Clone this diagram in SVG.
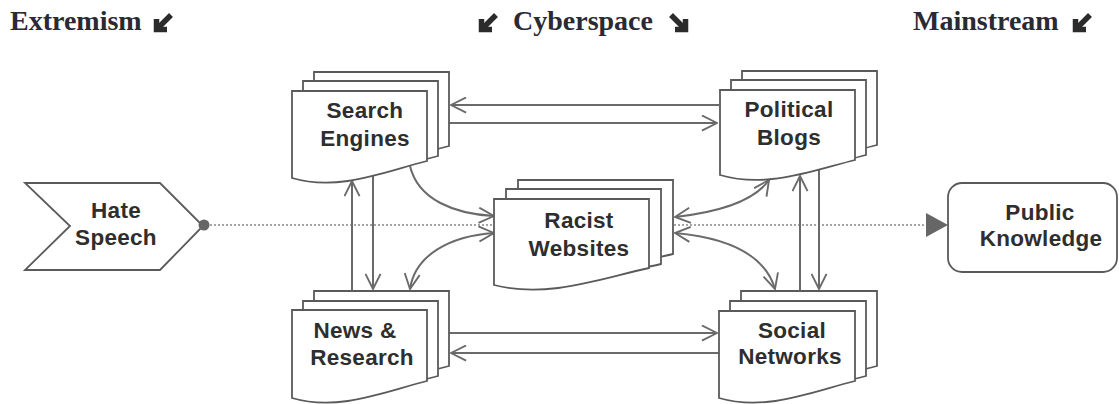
<svg xmlns="http://www.w3.org/2000/svg" width="1119" height="404" viewBox="0 0 1119 404">
<style>
.page{fill:#fff;stroke:#5a5a5a;stroke-width:1.8;stroke-linejoin:miter}
.lbl{font-family:"Liberation Sans",Arial,sans-serif;font-weight:bold;font-size:22.5px;letter-spacing:0.3px;fill:#2e2e2e;text-anchor:middle}
.hdr{font-family:"Liberation Serif","Times New Roman",serif;font-weight:bold;font-size:28px;fill:#2a2a35}
.ln{fill:none;stroke:#6a6a6a;stroke-width:2}
.ic{fill:none;stroke:#2b2b2b;stroke-width:5.5;stroke-linejoin:miter;stroke-linecap:butt}
</style>
<defs>
<marker id="ah" viewBox="0 0 18 18" refX="17" refY="9" markerWidth="17" markerHeight="17" markerUnits="userSpaceOnUse" orient="auto-start-reverse">
<path d="M1,1 L17,9 L1,17" fill="none" stroke="#6a6a6a" stroke-width="2"/>
</marker>
<g id="dl"><path class="ic" d="M18,2 L6,14"/><path class="ic" d="M3.5,6 V16.5 H14"/></g>
</defs>

<g id="headers">
<text class="hdr" x="10" y="30">Extremism</text>
<use href="#dl" x="153" y="13"/>
<use href="#dl" x="478" y="13"/>
<text class="hdr" x="513" y="30">Cyberspace</text>
<use href="#dl" transform="translate(689,13) scale(-1,1)"/>
<text class="hdr" x="913" y="30">Mainstream</text>
<use href="#dl" x="1072" y="13"/>
</g>

<g id="connectors">
<path d="M210,225 H928" fill="none" stroke="#888" stroke-width="1.6" stroke-dasharray="2 2"/>
<polygon points="926,213 948,225 926,237" fill="#666"/>
<path class="ln" d="M719,105 H451" marker-end="url(#ah)"/>
<path class="ln" d="M449,123 H717" marker-end="url(#ah)"/>
<path class="ln" d="M449,333 H717" marker-end="url(#ah)"/>
<path class="ln" d="M719,353 H451" marker-end="url(#ah)"/>
<path class="ln" d="M352,291 V181" marker-end="url(#ah)"/>
<path class="ln" d="M373,176 V289" marker-end="url(#ah)"/>
<path class="ln" d="M800,291 V176" marker-end="url(#ah)"/>
<path class="ln" d="M819,164 V289" marker-end="url(#ah)"/>
<path class="ln" d="M410,166 C418,200 455,214 494,216" marker-end="url(#ah)"/>
<path class="ln" d="M494,233 C450,236 415,255 410,289" marker-start="url(#ah)" marker-end="url(#ah)"/>
<path class="ln" d="M675,217 C720,212 755,200 769,180" marker-start="url(#ah)" marker-end="url(#ah)"/>
<path class="ln" d="M675,233 C730,238 765,255 775,289" marker-start="url(#ah)" marker-end="url(#ah)"/>
</g>

<g id="hate-speech">
<polygon class="page" points="25,183 160,183 203,226 160,270 25,270 70,226"/>
<circle cx="204" cy="225" r="5.5" fill="#666"/>
<text class="lbl" x="116" y="218">Hate</text>
<text class="lbl" x="116" y="245">Speech</text>
</g>

<g id="search-engines">
<path class="page" d="M314,72 H449 V146 C408.5,156 361.25,177 314,163 Z"/>
<path class="page" d="M303,81 H438 V156 C397.5,166 350.25,187 303,173 Z"/>
<path class="page" d="M292,91 H427 V161 C386.5,171 339.25,192 292,178 Z"/>
<text class="lbl" x="365" y="118">Search</text>
<text class="lbl" x="365" y="146">Engines</text>
</g>

<g id="political-blogs">
<path class="page" d="M742,71 H877 V145 C836.5,155 789.25,174 742,160 Z"/>
<path class="page" d="M731,80 H866 V155 C825.5,165 778.25,184 731,170 Z"/>
<path class="page" d="M720,90 H855 V160 C814.5,170 767.25,189 720,175 Z"/>
<text class="lbl" x="789" y="117">Political</text>
<text class="lbl" x="789" y="145">Blogs</text>
</g>

<g id="racist-websites">
<path class="page" d="M518,180 H673 V254 C626.5,264 572.25,284 518,270 Z"/>
<path class="page" d="M506,189 H661 V264 C614.5,274 560.25,294 506,280 Z"/>
<path class="page" d="M494,199 H649 V268 C602.5,278 548.25,299 494,285 Z"/>
<text class="lbl" x="579" y="228">Racist</text>
<text class="lbl" x="579" y="256">Websites</text>
</g>

<g id="news-research">
<path class="page" d="M314,291 H449 V366 C408.5,376 361.25,397 314,383 Z"/>
<path class="page" d="M303,301 H438 V376 C397.5,386 350.25,407 303,393 Z"/>
<path class="page" d="M292,310 H427 V381 C386.5,391 339.25,412 292,398 Z"/>
<text class="lbl" x="355" y="338">News &amp;</text>
<text class="lbl" x="362" y="365">Research</text>
</g>

<g id="social-networks">
<path class="page" d="M741,291 H877 V366 C836.2,376 788.6,397 741,383 Z"/>
<path class="page" d="M730,301 H866 V376 C825.2,386 777.6,407 730,393 Z"/>
<path class="page" d="M719,311 H855 V381 C814.2,391 766.6,412 719,398 Z"/>
<text class="lbl" x="792" y="338">Social</text>
<text class="lbl" x="790" y="364">Networks</text>
</g>

<g id="public-knowledge">
<rect class="page" x="948" y="183" width="169" height="89" rx="14"/>
<text class="lbl" x="1040" y="220">Public</text>
<text class="lbl" x="1041" y="246">Knowledge</text>
</g>
</svg>
